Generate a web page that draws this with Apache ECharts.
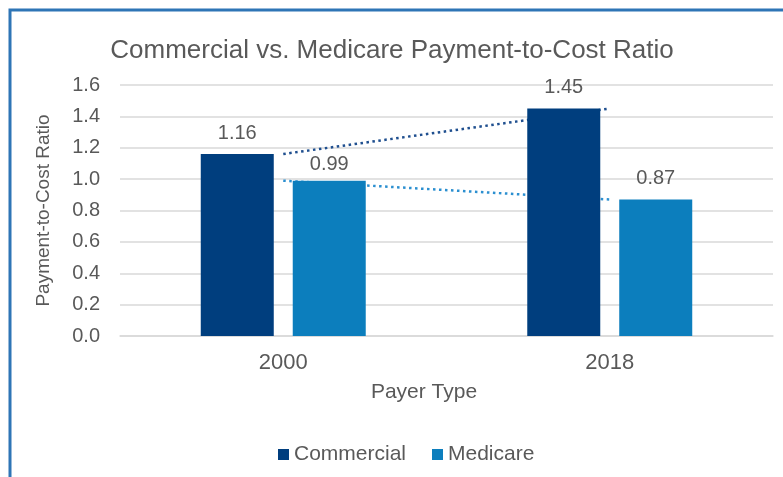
<!DOCTYPE html>
<html>
<head>
<meta charset="utf-8">
<script src="https://cdn.jsdelivr.net/npm/echarts@6/dist/echarts.min.js"></script>
<style>
html,body{margin:0;padding:0;background:#fff;}
#c{width:783px;height:477px;}
</style>
</head>
<body>
<div id="c"></div>
<script>
const categories = ['2000', '2018'];
const commercial = [1.16, 1.45];
const medicare = [0.99, 0.87];
const yTicks = [0, 0.2, 0.4, 0.6, 0.8, 1.0, 1.2, 1.4, 1.6];

const FONT = 'Liberation Sans, Arial, sans-serif';
const GRAY = '#595959';

const chart = echarts.init(document.getElementById('c'), null, {renderer: 'canvas'});
chart.setOption({
  backgroundColor: '#ffffff',
  animation: false,
  title: {
    text: 'Commercial vs. Medicare Payment-to-Cost Ratio',
    left: 387, top: 33, textAlign: 'center',
    textStyle: {fontFamily: FONT, fontSize: 26, fontWeight: 'normal', color: GRAY}
  },
  legend: {
    data: ['Commercial', 'Medicare'],
    left: 278, top: 444, padding: 0,
    itemWidth: 11, itemHeight: 11, itemGap: 26,
    icon: 'rect',
    textStyle: {fontFamily: FONT, fontSize: 21, color: GRAY}
  },
  graphic: [{
    type: 'polyline',
    shape: {points: [[10, 477], [10, 10], [783, 10]]},
    style: {stroke: '#2E75B6', lineWidth: 3, fill: null}
  }],
  grid: {left: 120, right: 10, top: 85, bottom: 141},
  xAxis: {
    type: 'category', data: categories,
    name: 'Payer Type', nameLocation: 'middle', nameGap: 46,
    nameTextStyle: {fontFamily: FONT, fontSize: 21, color: GRAY, padding: [0, 45, 0, 0]},
    axisLine: {show: true, lineStyle: {color: '#D9D9D9', width: 1.5}},
    axisTick: {show: false},
    axisLabel: {fontFamily: FONT, fontSize: 22, color: GRAY, margin: 16}
  },
  yAxis: {
    type: 'value', min: 0, max: 1.6, interval: 0.2,
    name: 'Payment-to-Cost Ratio', nameLocation: 'middle', nameGap: 67, nameRotate: 90,
    nameTextStyle: {fontFamily: FONT, fontSize: 19, color: GRAY},
    axisLine: {show: false}, axisTick: {show: false},
    axisLabel: {fontFamily: FONT, fontSize: 20, color: GRAY, margin: 20,
      formatter: v => (yTicks.some(t => Math.abs(t - v) < 1e-9) ? v.toFixed(1) : '')},
    splitLine: {lineStyle: {color: '#D9D9D9', width: 1.5}}
  },
  series: [
    {
      name: 'Commercial', type: 'bar', data: commercial, barWidth: 73, barGap: '26%', z: 3,
      itemStyle: {color: '#003E7E'},
      label: {show: true, position: 'top', distance: 11, fontFamily: FONT, fontSize: 20, color: GRAY,
        formatter: p => p.value.toFixed(2)}
    },
    {
      name: 'Medicare', type: 'bar', barWidth: 73, z: 3,
      data: medicare.map((v, i) => (i === 0 ? {value: v, label: {distance: 6}} : v)),
      itemStyle: {color: '#0C7EBD'},
      label: {show: true, position: 'top', distance: 11, fontFamily: FONT, fontSize: 20, color: GRAY,
        formatter: p => p.value.toFixed(2)}
    },
    {
      name: 'Linear (Commercial)', type: 'line', data: commercial, z: 1,
      symbol: 'none', silent: true,
      lineStyle: {color: '#1F4F8F', width: 2.5, type: [2.5, 3.5]}
    },
    {
      name: 'Linear (Medicare)', type: 'line', data: medicare, z: 1,
      symbol: 'none', silent: true,
      lineStyle: {color: '#2B8FD0', width: 2.5, type: [2.5, 3.5]}
    }
  ]
});
</script>
</body>
</html>
